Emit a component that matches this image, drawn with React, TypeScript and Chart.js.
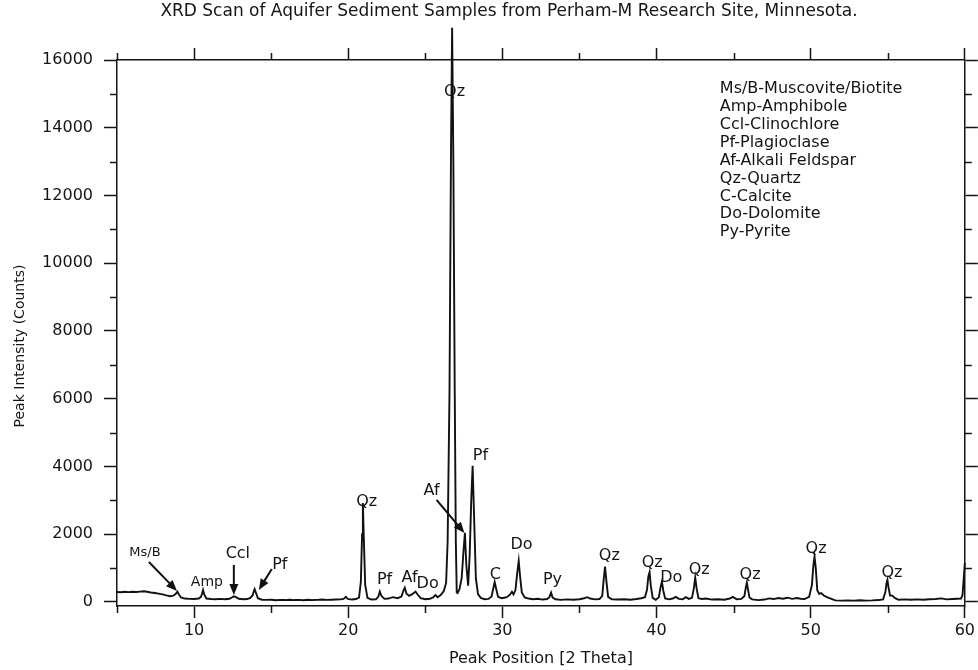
import { useEffect, useRef } from "react";
import { Chart, registerables } from "chart.js";

Chart.register(...registerables);

// ---- Scan data: [2θ, counts] ----
const scanLowAngle: [number, number][] = [
  [5.0, 295], [5.25, 285], [5.5, 300], [5.75, 290], [6.0, 300], [6.25, 295], [6.5, 305], [6.75, 315],
  [6.95, 300], [7.2, 280], [7.45, 265], [7.7, 245], [7.95, 225], [8.2, 195], [8.45, 170], [8.65, 185],
  [8.8, 230], [8.92, 300], [9.02, 220], [9.15, 130], [9.4, 100], [9.7, 90], [10.0, 85], [10.3, 100],
  [10.45, 150], [10.52, 250], [10.58, 355], [10.66, 220], [10.8, 100], [11.1, 85], [11.4, 80], [11.7, 90],
  [12.0, 80], [12.3, 95], [12.45, 130], [12.58, 165], [12.72, 140], [12.9, 95], [13.2, 80], [13.45, 85],
  [13.65, 120], [13.8, 200], [13.88, 320], [13.93, 375], [14.02, 260], [14.14, 110], [14.4, 65], [14.7, 60],
  [15.0, 65], [15.3, 50], [15.6, 60], [15.9, 55], [16.2, 65], [16.5, 55], [16.8, 60], [17.1, 50],
  [17.4, 65], [17.7, 55], [18.0, 60], [18.3, 70], [18.6, 60], [18.9, 65], [19.2, 70], [19.5, 75],
  [19.7, 90], [19.85, 150], [19.97, 90], [20.25, 70], [20.5, 85],
];

const scanQuartzRegion: [number, number][] = [
  [20.7, 130], [20.82, 600], [20.9, 2000], [20.95, 2920], [21.01, 1900], [21.1, 500], [21.25, 120],
  [21.5, 70], [21.8, 80], [21.95, 150], [22.05, 305], [22.15, 180], [22.35, 90], [22.6, 100], [22.9, 140],
  [23.2, 110], [23.45, 160], [23.58, 330], [23.67, 420], [23.78, 240], [23.95, 180], [24.15, 230],
  [24.37, 305], [24.5, 220], [24.7, 110], [25.0, 80], [25.3, 95], [25.5, 130], [25.66, 200], [25.8, 140],
  [26.0, 200], [26.2, 320], [26.35, 560], [26.45, 1800], [26.57, 6200], [26.67, 13500], [26.74, 16950],
  [26.82, 13000], [26.91, 6200], [26.98, 1800], [27.04, 280], [27.1, 260], [27.22, 380], [27.36, 700],
  [27.47, 1450], [27.57, 2040], [27.66, 1100], [27.78, 480], [27.88, 1400], [27.98, 3000], [28.07, 4020],
  [28.16, 2600], [28.28, 700], [28.42, 230], [28.6, 120], [28.85, 80], [29.1, 90], [29.3, 160],
  [29.42, 420], [29.5, 590], [29.6, 380], [29.72, 150], [29.95, 110], [30.2, 130],
];

const scanMidAngle: [number, number][] = [
  [30.35, 160], [30.5, 220], [30.62, 300], [30.72, 220], [30.85, 350], [30.95, 800], [31.06, 1210],
  [31.15, 750], [31.26, 280], [31.45, 130], [31.7, 100], [32.0, 80], [32.3, 95], [32.6, 70], [32.9, 85],
  [33.05, 140], [33.16, 275], [33.26, 130], [33.45, 80], [33.8, 60], [34.2, 75], [34.6, 65], [35.0, 80],
  [35.3, 110], [35.5, 140], [35.7, 100], [36.0, 75], [36.3, 85], [36.48, 180], [36.58, 700], [36.66, 1040],
  [36.74, 650], [36.86, 150], [37.1, 80], [37.5, 70], [37.9, 80], [38.3, 65], [38.7, 85], [39.0, 110],
  [39.25, 140], [39.38, 350], [39.47, 750], [39.55, 880], [39.63, 480], [39.75, 120], [39.95, 60],
  [40.15, 140], [40.27, 450], [40.35, 600], [40.44, 330], [40.56, 100], [40.8, 75], [41.05, 100],
  [41.25, 150], [41.45, 90], [41.7, 80], [41.9, 140], [42.1, 90], [42.3, 120], [42.42, 400], [42.51, 717],
  [42.6, 400], [42.72, 110], [42.95, 85], [43.2, 100], [43.6, 70], [44.0, 80], [44.4, 65], [44.75, 100],
  [44.95, 150], [45.2, 80], [45.5, 90],
];

const scanHighAngle: [number, number][] = [
  [45.7, 170], [45.79, 420], [45.86, 570], [45.93, 380], [46.03, 130], [46.2, 75], [46.6, 55], [47.0, 70],
  [47.3, 105], [47.6, 85], [47.9, 115], [48.2, 95], [48.5, 125], [48.8, 90], [49.1, 115], [49.35, 95],
  [49.6, 85], [49.9, 150], [50.08, 500], [50.18, 1100], [50.25, 1340], [50.33, 1000], [50.43, 340],
  [50.55, 240], [50.68, 260], [50.85, 190], [51.05, 140], [51.3, 100], [51.6, 45], [52.0, 40], [52.4, 45],
  [52.8, 38], [53.2, 48], [53.6, 40], [54.0, 45], [54.4, 55], [54.7, 75], [54.85, 300], [54.92, 550],
  [54.98, 650], [55.05, 430], [55.15, 190], [55.3, 185], [55.45, 120], [55.7, 65], [56.1, 75], [56.5, 65],
  [56.9, 75], [57.3, 65], [57.7, 80], [58.1, 85], [58.5, 105], [58.8, 75], [59.2, 85], [59.5, 95],
  [59.75, 100], [59.85, 200], [59.93, 700], [60.0, 1150],
];

// ---- Axes ----
const xMajorTicks = [10, 20, 30, 40, 50, 60];
const xMinorTicks = [5, 15, 25, 35, 45, 55];
const yMajorTicks = [0, 2000, 4000, 6000, 8000, 10000, 12000, 14000, 16000];
const yMinorTicks = [1000, 3000, 5000, 7000, 9000, 11000, 13000, 15000];

// ---- Peak annotations (data coordinates) ----
const peakLabels: { text: string; x: number; y: number }[] = [
  { text: "Ms/B", x: 6.81, y: 1446 },
  { text: "Amp", x: 10.83, y: 590 },
  { text: "Ccl", x: 12.84, y: 1417 },
  { text: "Pf", x: 15.56, y: 1092 },
  { text: "Qz", x: 21.2, y: 2952 },
  { text: "Pf", x: 22.36, y: 649 },
  { text: "Af", x: 23.98, y: 708 },
  { text: "Do", x: 25.15, y: 531 },
  { text: "Af", x: 25.41, y: 3277 },
  { text: "Qz", x: 26.9, y: 15055 },
  { text: "Pf", x: 28.58, y: 4310 },
  { text: "C", x: 29.55, y: 797 },
  { text: "Do", x: 31.24, y: 1683 },
  { text: "Py", x: 33.25, y: 649 },
  { text: "Qz", x: 36.94, y: 1358 },
  { text: "Qz", x: 39.72, y: 1151 },
  { text: "Do", x: 40.96, y: 708 },
  { text: "Qz", x: 42.77, y: 945 },
  { text: "Qz", x: 46.07, y: 797 },
  { text: "Qz", x: 50.35, y: 1565 },
  { text: "Qz", x: 55.27, y: 856 },
];

const peakArrows: { x1: number; y1: number; x2: number; y2: number }[] = [
  { x1: 7.07, y1: 1181, x2: 8.89, y2: 325 },
  { x1: 12.58, y1: 1092, x2: 12.58, y2: 207 },
  { x1: 15.04, y1: 974, x2: 14.2, y2: 354 },
  { x1: 25.73, y1: 3011, x2: 27.54, y2: 2037 },
];

const legendLines = [
  "Ms/B-Muscovite/Biotite",
  "Amp-Amphibole",
  "Ccl-Clinochlore",
  "Pf-Plagioclase",
  "Af-Alkali Feldspar",
  "Qz-Quartz",
  "C-Calcite",
  "Do-Dolomite",
  "Py-Pyrite",
];

const chartTitle = "XRD Scan of Aquifer Sediment Samples from Perham-M Research Site, Minnesota.";
const xTitle = "Peak Position [2 Theta]";
const yTitle = "Peak Intensity (Counts)";

const FONT = "'DejaVu Sans', 'Liberation Sans', sans-serif";
const AXIS_COLOR = "#151515";
const TEXT_COLOR = "#151515";

function drawArrow(ctx: CanvasRenderingContext2D, x1: number, y1: number, x2: number, y2: number) {
  const ang = Math.atan2(y2 - y1, x2 - x1);
  const cos = Math.cos(ang);
  const sin = Math.sin(ang);
  const head = 11;
  const half = 4.5;
  ctx.beginPath();
  ctx.moveTo(x1, y1);
  ctx.lineTo(x2 - head * 0.7 * cos, y2 - head * 0.7 * sin);
  ctx.stroke();
  ctx.beginPath();
  ctx.moveTo(x2, y2);
  ctx.lineTo(x2 - head * cos + half * sin, y2 - head * sin - half * cos);
  ctx.lineTo(x2 - head * cos - half * sin, y2 - head * sin + half * cos);
  ctx.closePath();
  ctx.fill();
}

const decorPlugin = {
  id: "xrdDecor",
  afterDraw(chart: any) {
    const { ctx, chartArea, scales } = chart;
    const xs = scales.x;
    const ys = scales.y;
    ctx.save();
    // minor ticks
    ctx.strokeStyle = AXIS_COLOR;
    ctx.lineWidth = 1.5;
    ctx.beginPath();
    xMinorTicks.forEach((v) => {
      const px = Math.round(xs.getPixelForValue(v)) + 0.5;
      ctx.moveTo(px, chartArea.bottom);
      ctx.lineTo(px, chartArea.bottom + 7);
      ctx.moveTo(px, chartArea.top);
      ctx.lineTo(px, chartArea.top - 7);
    });
    yMinorTicks.forEach((v) => {
      const py = Math.round(ys.getPixelForValue(v)) + 0.5;
      ctx.moveTo(chartArea.left - 7, py);
      ctx.lineTo(chartArea.left, py);
      ctx.moveTo(chartArea.right, py);
      ctx.lineTo(chartArea.right + 7, py);
    });
    ctx.stroke();

    ctx.fillStyle = TEXT_COLOR;
    // chart title
    ctx.font = `17px ${FONT}`;
    ctx.textAlign = "center";
    ctx.textBaseline = "middle";
    ctx.fillText(chartTitle, chartArea.left + 392, 12);

    // y axis title
    ctx.save();
    ctx.translate(20, chartArea.top + 286);
    ctx.rotate(-Math.PI / 2);
    ctx.font = `14px ${FONT}`;
    ctx.fillText(yTitle, 0, 0);
    ctx.restore();

    // legend block
    ctx.textAlign = "left";
    ctx.font = `16px ${FONT}`;
    legendLines.forEach((t, i) => {
      ctx.fillText(t, chartArea.right - 245, chartArea.top + 29 + i * 17.9);
    });

    // peak labels
    ctx.textAlign = "center";
    peakLabels.forEach((l) => {
      const size = l.text === "Ms/B" ? 13 : l.text === "Amp" ? 14 : 16;
      ctx.font = `${size}px ${FONT}`;
      ctx.fillText(l.text, xs.getPixelForValue(l.x), ys.getPixelForValue(l.y));
    });

    // arrows
    ctx.strokeStyle = "#111";
    ctx.fillStyle = "#111";
    ctx.lineWidth = 2;
    peakArrows.forEach((a) => {
      drawArrow(
        ctx,
        xs.getPixelForValue(a.x1),
        ys.getPixelForValue(a.y1),
        xs.getPixelForValue(a.x2),
        ys.getPixelForValue(a.y2)
      );
    });
    ctx.restore();
  },
};

export default function App() {
  const ref = useRef<HTMLCanvasElement>(null);

  useEffect(() => {
    const canvas = ref.current;
    if (!canvas) return;
    const points = [...scanLowAngle, ...scanQuartzRegion, ...scanMidAngle, ...scanHighAngle].map(
      ([x, y]) => ({ x, y })
    );
    const gridCommon = (len: number) => ({
      drawOnChartArea: false,
      drawTicks: true,
      tickLength: len,
      tickColor: AXIS_COLOR,
      tickWidth: 1.5,
    });
    const border = { display: true, color: AXIS_COLOR, width: 1.5 };
    const tickFont = { family: FONT, size: 16 };
    const plainLabel = (v: any) => String(v);

    const chart = new Chart(canvas, {
      type: "scatter",
      data: {
        datasets: [
          {
            data: points,
            showLine: true,
            borderColor: "#111111",
            borderWidth: 1.9,
            pointRadius: 0,
            pointHoverRadius: 0,
            tension: 0,
            clip: false as any,
          } as any,
        ],
      },
      options: {
        responsive: false,
        animation: false,
        layout: { padding: 0 },
        plugins: {
          legend: { display: false },
          title: { display: false },
          tooltip: { enabled: false },
        },
        scales: {
          x: {
            type: "linear",
            position: "bottom",
            min: 5,
            max: 60,
            afterBuildTicks: (s: any) => {
              s.ticks = xMajorTicks.map((v) => ({ value: v }));
            },
            afterFit: (s: any) => {
              s.height = 64;
            },
            grid: gridCommon(12),
            border,
            ticks: {
              color: TEXT_COLOR,
              font: tickFont,
              padding: 3,
              maxRotation: 0,
              autoSkip: false,
              callback: plainLabel,
            },
            title: {
              display: true,
              text: xTitle,
              color: TEXT_COLOR,
              font: { family: FONT, size: 16 },
              padding: { top: 0, bottom: 2 },
            },
          },
          x2: {
            type: "linear",
            position: "top",
            min: 5,
            max: 60,
            afterBuildTicks: (s: any) => {
              s.ticks = xMajorTicks.map((v) => ({ value: v }));
            },
            afterFit: (s: any) => {
              s.height = 60;
            },
            grid: gridCommon(12),
            border,
            ticks: { display: false },
          },
          y: {
            type: "linear",
            position: "left",
            min: -120,
            max: 16000,
            afterBuildTicks: (s: any) => {
              s.ticks = yMajorTicks.map((v) => ({ value: v }));
            },
            afterFit: (s: any) => {
              s.width = 117;
            },
            grid: gridCommon(13),
            border,
            ticks: { color: TEXT_COLOR, font: tickFont, padding: 11, autoSkip: false, callback: plainLabel },
          },
          y2: {
            type: "linear",
            position: "right",
            min: -120,
            max: 16000,
            afterBuildTicks: (s: any) => {
              s.ticks = yMajorTicks.map((v) => ({ value: v }));
            },
            afterFit: (s: any) => {
              s.width = 12;
            },
            grid: gridCommon(13),
            border,
            ticks: { display: false },
          },
        },
      } as any,
      plugins: [decorPlugin],
    });
    return () => chart.destroy();
  }, []);

  return (
    <canvas
      ref={ref}
      width={978}
      height={670}
      style={{ position: "absolute", left: 0, top: 0, width: 978, height: 670, display: "block" }}
    />
  );
}
